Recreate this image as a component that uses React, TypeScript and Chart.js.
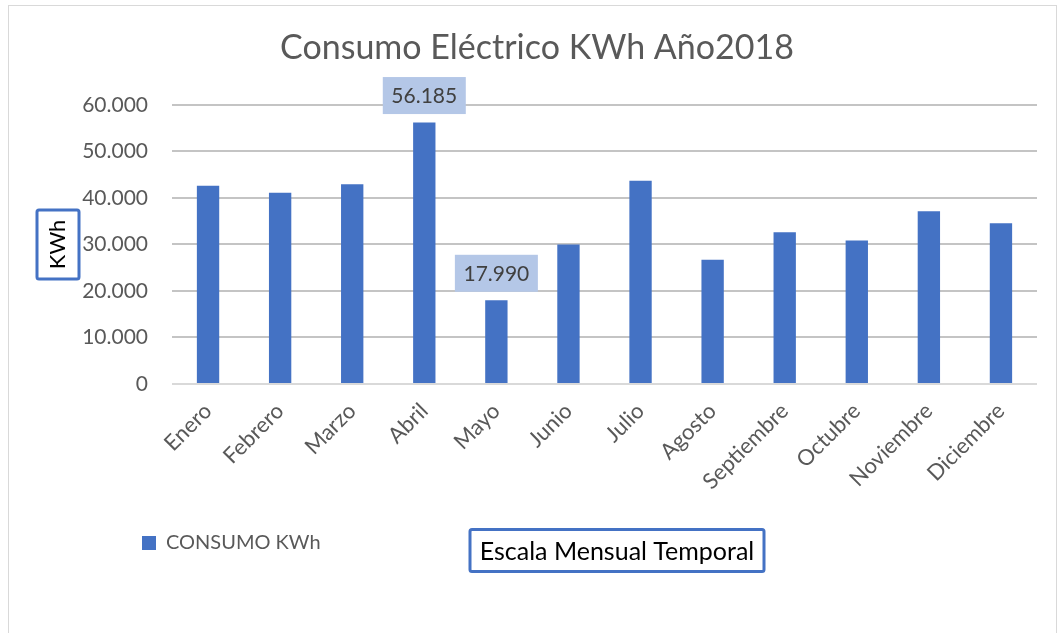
import React, { useEffect, useRef } from 'react';
import { Chart, registerables } from 'chart.js';

Chart.register(...registerables);

// ---- Data ----
const months = ['Enero', 'Febrero', 'Marzo', 'Abril', 'Mayo', 'Junio', 'Julio', 'Agosto', 'Septiembre', 'Octubre', 'Noviembre', 'Diciembre'];
const consumoKWh = [42600, 41100, 42900, 56185, 17990, 30000, 43700, 26700, 32600, 30850, 37100, 34550];
const yTicks = [0, 10000, 20000, 30000, 40000, 50000, 60000];
const seriesName = 'CONSUMO KWh';
const chartTitle = 'Consumo Eléctrico KWh Año2018';
const yAxisTitle = 'KWh';
const xAxisTitle = 'Escala Mensual Temporal';

// ---- Styles ----
const FONT = 'Lato, "Open Sans", "DejaVu Sans", sans-serif';
const BLUE = '#4472C4';
const GREY_TEXT = '#595959';

const fmt = (v: number) => String(Math.round(v)).replace(/\B(?=(\d{3})+(?!\d))/g, '.');

function roundRectPath(ctx: CanvasRenderingContext2D, x: number, y: number, w: number, h: number, r: number) {
  ctx.beginPath();
  ctx.moveTo(x + r, y);
  ctx.lineTo(x + w - r, y);
  ctx.quadraticCurveTo(x + w, y, x + w, y + r);
  ctx.lineTo(x + w, y + h - r);
  ctx.quadraticCurveTo(x + w, y + h, x + w - r, y + h);
  ctx.lineTo(x + r, y + h);
  ctx.quadraticCurveTo(x, y + h, x, y + h - r);
  ctx.lineTo(x, y + r);
  ctx.quadraticCurveTo(x, y, x + r, y);
  ctx.closePath();
}

const decorPlugin = {
  id: 'decor',
  beforeDraw(chart: any) {
    const ctx = chart.ctx as CanvasRenderingContext2D;
    ctx.save();
    ctx.strokeStyle = '#D9D9D9';
    ctx.lineWidth = 1;
    ctx.strokeRect(8.5, 5.5, chart.width - 11, chart.height + 10);
    ctx.restore();
  },
  afterLayout(chart: any) {
    if (chart.legend) {
      chart.legend.left = 132;
    }
  },
  afterDraw(chart: any) {
    const ctx = chart.ctx as CanvasRenderingContext2D;
    const area = chart.chartArea;
    const yScale = chart.scales.y;
    ctx.save();

    // Box around the y axis title
    const ycx = yScale.left + 21;
    const ycy = (area.top + area.bottom) / 2;
    ctx.strokeStyle = BLUE;
    ctx.lineWidth = 3;
    roundRectPath(ctx, ycx - 21, ycy - 34.5, 42, 69, 2);
    ctx.stroke();

    // X axis title in a box
    const xcx = 617;
    const xcy = 550.5;
    ctx.fillStyle = '#FFFFFF';
    roundRectPath(ctx, xcx - 147, xcy - 21, 294, 42, 2);
    ctx.fill();
    ctx.stroke();
    ctx.fillStyle = '#000000';
    ctx.font = `25px ${FONT}`;
    ctx.textAlign = 'center';
    ctx.textBaseline = 'middle';
    ctx.fillText(xAxisTitle, xcx, xcy + 1);

    // Data labels for max and min
    const meta = chart.getDatasetMeta(0);
    const maxV = Math.max(...consumoKWh);
    const minV = Math.min(...consumoKWh);
    const idxs = [consumoKWh.indexOf(maxV), consumoKWh.indexOf(minV)];
    ctx.font = `21px ${FONT}`;
    idxs.forEach((i) => {
      const el = meta.data[i];
      if (!el) return;
      const cx = el.x;
      const cy = el.y - 27;
      ctx.fillStyle = '#B4C7E7';
      ctx.fillRect(cx - 41.5, cy - 18.5, 83, 37);
      ctx.fillStyle = '#404040';
      ctx.fillText(fmt(consumoKWh[i]), cx, cy + 1);
    });

    ctx.restore();
  },
};

export default function App() {
  const ref = useRef<HTMLCanvasElement>(null);

  useEffect(() => {
    document.body.style.margin = '0';
    const canvas = ref.current;
    if (!canvas) return;
    const chart = new Chart(canvas, {
      type: 'bar',
      data: {
        labels: months,
        datasets: [
          {
            label: seriesName,
            data: consumoKWh,
            backgroundColor: BLUE,
            borderWidth: 0,
            categoryPercentage: 1,
            barPercentage: 0.31,
          },
        ],
      },
      options: {
        animation: false,
        responsive: false,
        maintainAspectRatio: false,
        devicePixelRatio: 1,
        layout: { padding: { left: 37, right: 22, top: 0, bottom: 70 } },
        plugins: {
          title: {
            display: true,
            text: chartTitle,
            color: GREY_TEXT,
            font: { family: FONT, size: 34, weight: 'normal' },
            padding: { top: 28, bottom: 36 },
          },
          legend: {
            display: true,
            position: 'bottom',
            align: 'start',
            labels: {
              color: GREY_TEXT,
              font: { family: FONT, size: 20 },
              boxWidth: 14,
              boxHeight: 14,
              padding: 10,
            },
          },
          tooltip: { enabled: false },
        },
        scales: {
          x: {
            grid: { display: false, drawTicks: false },
            border: { display: false },
            ticks: {
              color: GREY_TEXT,
              font: { family: FONT, size: 22 },
              maxRotation: 45,
              minRotation: 45,
              padding: 14,
              autoSkip: false,
            },
            afterFit: (scale: any) => {
              scale.height = 139;
            },
          },
          y: {
            min: yTicks[0],
            max: yTicks[yTicks.length - 1],
            grid: {
              drawTicks: false,
              color: (c: any) => (c.tick && c.tick.value === 0 ? '#D9D9D9' : '#C4C4C4'),
              lineWidth: 2,
            },
            border: { display: false },
            ticks: {
              stepSize: yTicks[1] - yTicks[0],
              color: GREY_TEXT,
              font: { family: FONT, size: 21 },
              padding: 24,
              callback: (v: any) => fmt(Number(v)),
            },
            title: {
              display: true,
              text: yAxisTitle,
              color: '#000000',
              font: { family: FONT, size: 22 },
              padding: { top: 8, bottom: 0 },
            },
            afterFit: (scale: any) => {
              scale.width = 135;
            },
          },
        },
      },
      plugins: [decorPlugin],
    } as any);
    return () => chart.destroy();
  }, []);

  return (
    <div style={{ position: 'relative', width: 1059, height: 633, background: '#FFFFFF' }}>
      <canvas ref={ref} width={1059} height={633} style={{ display: 'block', width: 1059, height: 633 }} />
    </div>
  );
}
